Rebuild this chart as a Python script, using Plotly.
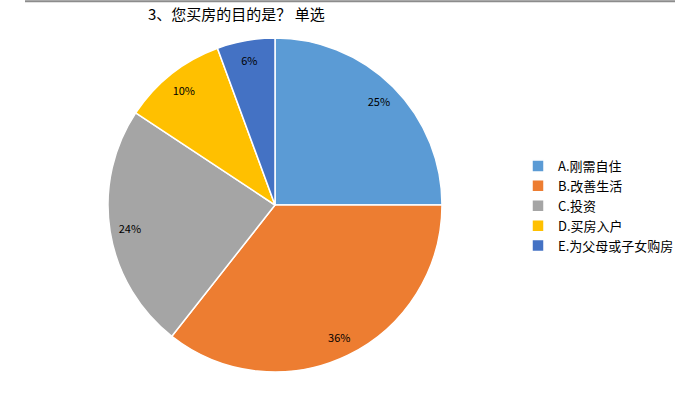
import plotly.graph_objects as go

categories = ["A.刚需自住", "B.改善生活", "C.投资", "D.买房入户", "E.为父母或子女购房"]
values = [25.0, 35.6, 23.7, 10.1, 5.6]
colors = ["#5B9BD5", "#ED7D31", "#A5A5A5", "#FFC000", "#4472C4"]
title_text = "3、您买房的目的是？ 单选"

font_family = "SimSun, Noto Sans CJK SC, sans-serif"
dom = dict(x=[108/700, 442/700], y=[1-372/400, 1-38/400])

fig = go.Figure()
fig.add_trace(go.Pie(
    labels=categories,
    values=values,
    marker=dict(colors=colors, line=dict(color="white", width=1.5)),
    sort=False,
    direction="clockwise",
    rotation=0,
    textinfo="none",
    domain=dom,
    hoverinfo="label+percent",
))
# transparent ring used only to place the percentage labels near the rim
fig.add_trace(go.Pie(
    labels=categories,
    values=values,
    hole=0.76,
    marker=dict(colors=["rgba(0,0,0,0)"]*len(values), line=dict(width=0)),
    sort=False,
    direction="clockwise",
    rotation=0,
    texttemplate="%{percent:.0%}",
    textposition="inside",
    insidetextorientation="horizontal",
    textfont=dict(color="#000000", size=11, family=font_family),
    domain=dom,
    showlegend=False,
    hoverinfo="skip",
))

fig.update_layout(
    width=700, height=400,
    margin=dict(l=0, r=0, t=0, b=0),
    paper_bgcolor="white",
    plot_bgcolor="white",
    font=dict(family=font_family, color="#000000", size=12),
    title=dict(text=title_text, x=148/700, xanchor="left", y=1-15/400, yanchor="middle",
               font=dict(size=15, color="#000000", family=font_family)),
    legend=dict(x=518/700, xanchor="left", y=1-151/400, yanchor="top",
                font=dict(size=13, color="#000000", family=font_family),
                itemwidth=30, tracegroupgap=0, bgcolor="rgba(0,0,0,0)"),
    shapes=[dict(type="line", xref="paper", yref="paper", x0=25/700, x1=675/700, y0=0.997, y1=0.997,
                 line=dict(color="#8C8C8C", width=2))],
)

fig.write_html("out.html", config={"displayModeBar": False},
               post_script="document.body.style.margin='0';")
